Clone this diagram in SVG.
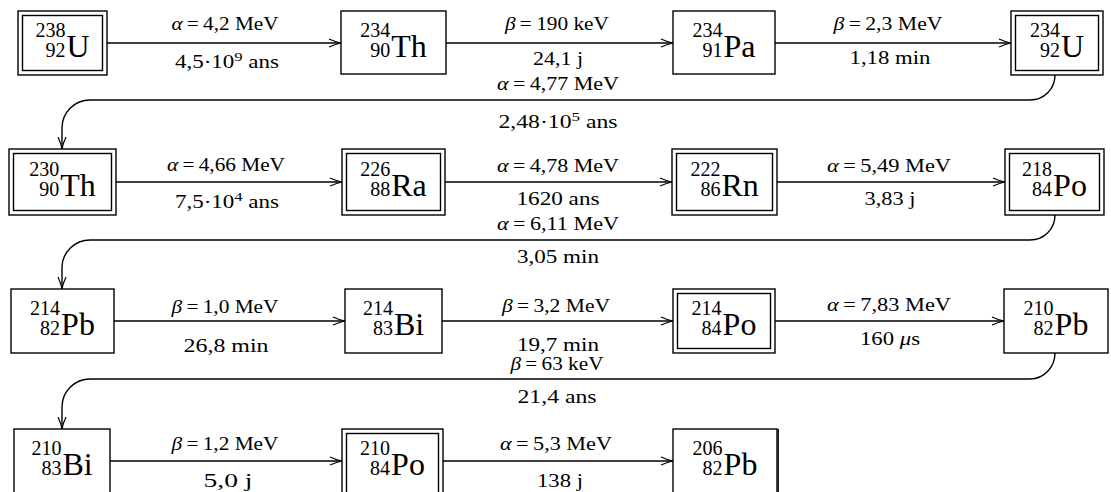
<svg xmlns="http://www.w3.org/2000/svg" width="1111" height="492" viewBox="0 0 1111 492">
<style>
.box{fill:#fff;stroke:#000;stroke-width:1.4}
.con{fill:none;stroke:#000;stroke-width:1.4;marker-end:url(#ah)}
.lbl{font-family:"Liberation Serif","Times New Roman",serif;font-size:18px;text-anchor:middle;fill:#000}
.g{font-style:italic}
.sup{font-size:13px}
.sym{font-family:"Liberation Serif","Times New Roman",serif;font-size:32px;fill:#000}
.scr{font-family:"Liberation Serif","Times New Roman",serif;font-size:20px;text-anchor:end;fill:#000}
</style>
<defs>
<marker id="ah" markerUnits="userSpaceOnUse" markerWidth="13" markerHeight="10" refX="12" refY="5" orient="auto" viewBox="0 0 13 10" overflow="visible">
<path d="M0,1 Q7,4.2 12,5 Q7,5.8 0,9" fill="none" stroke="#000" stroke-width="1.2"/>
</marker>
</defs>
<rect width="1111" height="492" fill="#fff"/>

<g id="connectors">
<path class="con" d="M107,43 H341"/>
<path class="con" d="M446,43 H673"/>
<path class="con" d="M775,43 H1011"/>
<path class="con" d="M1055,75 C1055,89 1044,100 1030,100 H90 C75,100 62,112 62,128 V149"/>
<path class="con" d="M116,182 H342"/>
<path class="con" d="M445,182 H672"/>
<path class="con" d="M777,182 H1005"/>
<path class="con" d="M1055,215 C1055,229 1044,240 1030,240 H90 C75,240 62,252 62,268 V289"/>
<path class="con" d="M114,321 H345"/>
<path class="con" d="M442,321 H673"/>
<path class="con" d="M775,321 H1004"/>
<path class="con" d="M1055,353 C1055,367 1044,379 1030,379 H90 C75,379 62,391 62,407 V429"/>
<path class="con" d="M110,461 H342"/>
<path class="con" d="M443,461 H673"/>
</g>

<g id="labels">
<text class="lbl" x="225" y="29.5" textLength="107" lengthAdjust="spacingAndGlyphs"><tspan class="g">α</tspan>&#8201;=&#8201;4,2 MeV</text>
<text class="lbl" x="227" y="68" textLength="104" lengthAdjust="spacingAndGlyphs">4,5·10<tspan class="sup" dy="-7">9</tspan><tspan dy="7"> ans</tspan></text>
<text class="lbl" x="557" y="30" textLength="104" lengthAdjust="spacingAndGlyphs"><tspan class="g">β</tspan>&#8201;=&#8201;190 keV</text>
<text class="lbl" x="558" y="64.5" textLength="50" lengthAdjust="spacingAndGlyphs">24,1 j</text>
<text class="lbl" x="888" y="29.5" textLength="109" lengthAdjust="spacingAndGlyphs"><tspan class="g">β</tspan>&#8201;=&#8201;2,3 MeV</text>
<text class="lbl" x="890" y="64" textLength="81" lengthAdjust="spacingAndGlyphs">1,18 min</text>
<text class="lbl" x="558" y="90" textLength="122" lengthAdjust="spacingAndGlyphs"><tspan class="g">α</tspan>&#8201;=&#8201;4,77 MeV</text>
<text class="lbl" x="558" y="128" textLength="119" lengthAdjust="spacingAndGlyphs">2,48·10<tspan class="sup" dy="-7">5</tspan><tspan dy="7"> ans</tspan></text>

<text class="lbl" x="226" y="171" textLength="118" lengthAdjust="spacingAndGlyphs"><tspan class="g">α</tspan>&#8201;=&#8201;4,66 MeV</text>
<text class="lbl" x="227" y="208" textLength="104" lengthAdjust="spacingAndGlyphs">7,5·10<tspan class="sup" dy="-7">4</tspan><tspan dy="7"> ans</tspan></text>
<text class="lbl" x="558" y="171.5" textLength="122" lengthAdjust="spacingAndGlyphs"><tspan class="g">α</tspan>&#8201;=&#8201;4,78 MeV</text>
<text class="lbl" x="558" y="205" textLength="83" lengthAdjust="spacingAndGlyphs">1620 ans</text>
<text class="lbl" x="889" y="171.5" textLength="124" lengthAdjust="spacingAndGlyphs"><tspan class="g">α</tspan>&#8201;=&#8201;5,49 MeV</text>
<text class="lbl" x="890" y="205" textLength="51" lengthAdjust="spacingAndGlyphs">3,83 j</text>
<text class="lbl" x="558" y="229.5" textLength="122" lengthAdjust="spacingAndGlyphs"><tspan class="g">α</tspan>&#8201;=&#8201;6,11 MeV</text>
<text class="lbl" x="558" y="263" textLength="82" lengthAdjust="spacingAndGlyphs">3,05 min</text>

<text class="lbl" x="225" y="312.5" textLength="107" lengthAdjust="spacingAndGlyphs"><tspan class="g">β</tspan>&#8201;=&#8201;1,0 MeV</text>
<text class="lbl" x="226" y="352" textLength="85" lengthAdjust="spacingAndGlyphs">26,8 min</text>
<text class="lbl" x="556" y="311.5" textLength="108" lengthAdjust="spacingAndGlyphs"><tspan class="g">β</tspan>&#8201;=&#8201;3,2 MeV</text>
<text class="lbl" x="558" y="350.5" textLength="82" lengthAdjust="spacingAndGlyphs">19,7 min</text>
<text class="lbl" x="889" y="310.5" textLength="124" lengthAdjust="spacingAndGlyphs"><tspan class="g">α</tspan>&#8201;=&#8201;7,83 MeV</text>
<text class="lbl" x="890" y="345" textLength="60" lengthAdjust="spacingAndGlyphs">160 <tspan class="g">μ</tspan>s</text>
<text class="lbl" x="557" y="369.5" textLength="93" lengthAdjust="spacingAndGlyphs"><tspan class="g">β</tspan>&#8201;=&#8201;63 keV</text>
<text class="lbl" x="557" y="402.5" textLength="79" lengthAdjust="spacingAndGlyphs">21,4 ans</text>

<text class="lbl" x="225" y="450" textLength="107" lengthAdjust="spacingAndGlyphs"><tspan class="g">β</tspan>&#8201;=&#8201;1,2 MeV</text>
<text class="lbl" x="228" y="487" textLength="49" lengthAdjust="spacingAndGlyphs">5,0 j</text>
<text class="lbl" x="556" y="450" textLength="112" lengthAdjust="spacingAndGlyphs"><tspan class="g">α</tspan>&#8201;=&#8201;5,3 MeV</text>
<text class="lbl" x="560" y="487" textLength="46" lengthAdjust="spacingAndGlyphs">138 j</text>
</g>

<g id="U238">
<rect class="box" x="18" y="11" width="89" height="64"/>
<rect class="box" x="22.5" y="15.5" width="80" height="55"/>
<text class="scr" x="65.5" y="37">238</text><text class="scr" x="65.5" y="57">92</text>
<text class="sym" x="66.5" y="57">U</text>
</g>
<g id="Th234">
<rect class="box" x="341" y="11" width="105" height="63"/>
<text class="scr" x="390.2" y="37">234</text><text class="scr" x="390.2" y="57">90</text>
<text class="sym" x="391.2" y="57">Th</text>
</g>
<g id="Pa234">
<rect class="box" x="673" y="11" width="102" height="63"/>
<text class="scr" x="722.5" y="37">234</text><text class="scr" x="722.5" y="57">91</text>
<text class="sym" x="723.5" y="57">Pa</text>
</g>
<g id="U234">
<rect class="box" x="1011" y="11" width="92" height="64"/>
<rect class="box" x="1015.5" y="15.5" width="83" height="55"/>
<text class="scr" x="1060" y="37">234</text><text class="scr" x="1060" y="57">92</text>
<text class="sym" x="1061" y="57">U</text>
</g>

<g id="Th230">
<rect class="box" x="9" y="149" width="107" height="66"/>
<rect class="box" x="13.5" y="153.5" width="98" height="57"/>
<text class="scr" x="59.2" y="176">230</text><text class="scr" x="59.2" y="196">90</text>
<text class="sym" x="60.2" y="196">Th</text>
</g>
<g id="Ra226">
<rect class="box" x="342" y="149" width="103" height="66"/>
<rect class="box" x="346.5" y="153.5" width="94" height="57"/>
<text class="scr" x="390.2" y="176">226</text><text class="scr" x="390.2" y="196">88</text>
<text class="sym" x="391.2" y="196">Ra</text>
</g>
<g id="Rn222">
<rect class="box" x="672" y="149" width="105" height="66"/>
<rect class="box" x="676.5" y="153.5" width="96" height="57"/>
<text class="scr" x="720.4" y="176">222</text><text class="scr" x="720.4" y="196">86</text>
<text class="sym" x="721.4" y="196">Rn</text>
</g>
<g id="Po218">
<rect class="box" x="1005" y="149" width="99" height="66"/>
<rect class="box" x="1009.5" y="153.5" width="90" height="57"/>
<text class="scr" x="1052.1" y="176">218</text><text class="scr" x="1052.1" y="196">84</text>
<text class="sym" x="1053.1" y="196">Po</text>
</g>

<g id="Pb214">
<rect class="box" x="11" y="289" width="103" height="64"/>
<text class="scr" x="60.1" y="315">214</text><text class="scr" x="60.1" y="335">82</text>
<text class="sym" x="61.1" y="335">Pb</text>
</g>
<g id="Bi214">
<rect class="box" x="345" y="289" width="97" height="64"/>
<text class="scr" x="392.9" y="315">214</text><text class="scr" x="392.9" y="335">83</text>
<text class="sym" x="393.9" y="335">Bi</text>
</g>
<g id="Po214">
<rect class="box" x="673" y="289" width="102" height="64"/>
<rect class="box" x="677.5" y="293.5" width="93" height="55"/>
<text class="scr" x="721.6" y="315">214</text><text class="scr" x="721.6" y="335">84</text>
<text class="sym" x="722.6" y="335">Po</text>
</g>
<g id="Pb210">
<rect class="box" x="1004" y="289" width="104" height="64"/>
<text class="scr" x="1053.6" y="315">210</text><text class="scr" x="1053.6" y="335">82</text>
<text class="sym" x="1054.6" y="335">Pb</text>
</g>

<g id="Bi210">
<rect class="box" x="14" y="429" width="96" height="70"/>
<text class="scr" x="61.4" y="455">210</text><text class="scr" x="61.4" y="475">83</text>
<text class="sym" x="62.4" y="475">Bi</text>
</g>
<g id="Po210">
<rect class="box" x="342" y="429" width="101" height="70"/>
<rect class="box" x="346.5" y="433.5" width="92" height="70"/>
<text class="scr" x="390.1" y="455">210</text><text class="scr" x="390.1" y="475">84</text>
<text class="sym" x="391.1" y="475">Po</text>
</g>
<g id="Pb206">
<rect class="box" x="673" y="429" width="104" height="70"/>
<path d="M778.2,429 V492" stroke="#000" stroke-width="1.4"/>
<text class="scr" x="722.6" y="455">206</text><text class="scr" x="722.6" y="475">82</text>
<text class="sym" x="723.6" y="475">Pb</text>
</g>
</svg>
